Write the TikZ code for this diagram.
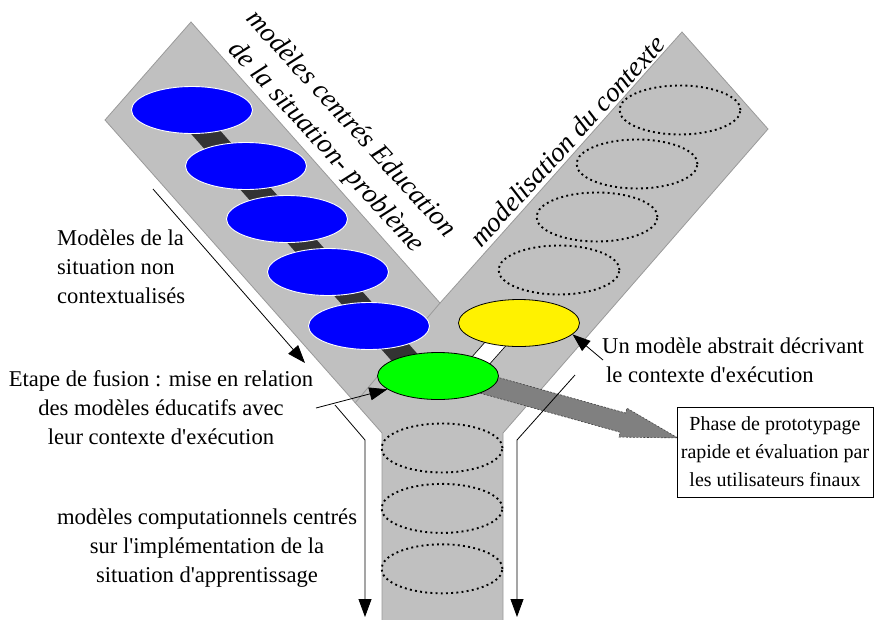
\documentclass[tikz,border=0pt]{standalone}
\usepackage{fontspec}
\setmainfont{Liberation Serif}
\usetikzlibrary{arrows.meta, positioning, shapes.geometric}

\definecolor{bandgray}{HTML}{C0C0C0}
\definecolor{bandedge}{HTML}{9A9A9A}
\definecolor{chaindark}{HTML}{333333}
\definecolor{protogray}{HTML}{808080}

\begin{document}
\begin{tikzpicture}[x=1pt, y=-1pt, >={Triangle[length=18pt,width=13pt]},
  every node/.style={inner sep=0pt},
  blueell/.style={ellipse, fill=blue, draw=white, line width=0.9pt, minimum width=121pt, minimum height=47pt},
  keyell/.style={ellipse, draw=black, line width=0.8pt, minimum width=121pt, minimum height=47pt},
  dotell/.style={ellipse, draw=black, line width=1.9pt, dash pattern=on 1.9pt off 3.3pt, minimum width=121pt, minimum height=49pt},
  lbl/.style={font=\fontsize{22.6}{29}\selectfont},
  tilted/.style={font=\fontsize{27.5}{34}\selectfont\itshape, align=center},
  pointer/.style={->, line width=0.8pt}]
\useasboundingbox (0,0) rectangle (874,619);

% the Y shaped channel
\draw[fill=bandgray, draw=bandedge, line width=0.8pt] (191,22) -- (105,120) -- (382,433) -- (382,625) -- (503,625) -- (503,433) -- (768,129) -- (682,32) -- (440,303) -- cycle;
\draw[bandedge, line width=0.8pt] (440,303) -- (355,403);

% strips under the ellipses
\coordinate (chaintop) at (186,110);
\coordinate (chainend) at (421,376);
\draw[chaindark, line width=24pt] (chaintop) -- (chainend);
\coordinate (linktop) at (514,323);
\coordinate (linkend) at (467,376);
\draw[line width=0.8pt, double=white, double distance=17pt] (linktop) -- (linkend);

% big gray arrow to the prototyping box
\coordinate (protostart) at (438,371);
\begin{scope}[shift={(protostart)}, rotate=-15.6]
  \draw[fill=protogray, draw=black!75, line width=0.6pt, dash pattern=on 2pt off 1.5pt]
    (40,-10) -- (192,-10) -- (192,-15) -- (249,0) -- (192,15) -- (192,10) -- (40,10) -- cycle;
\end{scope}

% model ellipses
\node (b1) [blueell] at (192,110) {};
\node (b2) [blueell] at (246,166) {};
\node (b3) [blueell] at (287,219) {};
\node (b4) [blueell] at (328,272) {};
\node (b5) [blueell] at (369,326) {};
\node (yellow) [keyell, fill=yellow] at (519,323) {};
\node (green) [keyell, fill=green] at (438,376) {};

\node (c1) [dotell] at (680,110) {};
\node (c2) [dotell] at (637,164) {};
\node (c3) [dotell] at (597,217) {};
\node (c4) [dotell] at (559,270) {};
\node (s1) [dotell] at (442,448) {};
\node (s2) [dotell, below=9.5pt of s1] {};
\node (s3) [dotell, below=9.5pt of s2] {};

% texts
\node (lefttitle) [tilted, rotate=-47.5] at (338,136) {modèles centrés Education\\de la situation- problème};
\node (righttitle) [tilted, rotate=47.5] at (567,141) {modelisation du contexte};
\node (nonctx) [lbl, align=left, anchor=west] at (57,267) {Modèles de la\\situation non\\contextualisés};
\node (fusion) [lbl, align=center] at (161,408) {Etape de fusion : mise en relation\\des modèles éducatifs avec\\leur contexte d\textquotesingle exécution};
\node (abstract) [lbl, align=left, anchor=west] at (602,360) {Un modèle abstrait décrivant\\\hspace*{4pt}le contexte d\textquotesingle exécution};
\node (computational) [lbl, align=center] at (207,548) {modèles computationnels centrés\\sur l\textquotesingle implémentation de la\\situation d\textquotesingle apprentissage};
\node (proto) [draw, line width=0.8pt, minimum width=196pt, minimum height=90pt, align=center, font=\fontsize{20}{28}\selectfont] at (775,452) {Phase de prototypage\\rapide et évaluation par\\les utilisateurs finaux};

% thin arrows
\coordinate (nonctxfrom) at (153,189);
\coordinate (nonctxto) at (305,363);
\draw[pointer] (nonctxfrom) -- (nonctxto);
\coordinate (fusionfrom) at (316,408);
\draw[pointer] (fusionfrom) -- (green);
\coordinate (abstractfrom) at (603,360);
\draw[pointer] (abstractfrom) -- (yellow.-12);
\coordinate (leftfrom) at (335,405);
\coordinate (leftbend) at (365,440);
\coordinate (leftto) at (365,617);
\draw[pointer] (leftfrom) -- (leftbend) -- (leftto);
\coordinate (rightfrom) at (575,375);
\coordinate (rightbend) at (517,440);
\coordinate (rightto) at (517,617);
\draw[pointer] (rightfrom) -- (rightbend) -- (rightto);
\end{tikzpicture}
\end{document}
